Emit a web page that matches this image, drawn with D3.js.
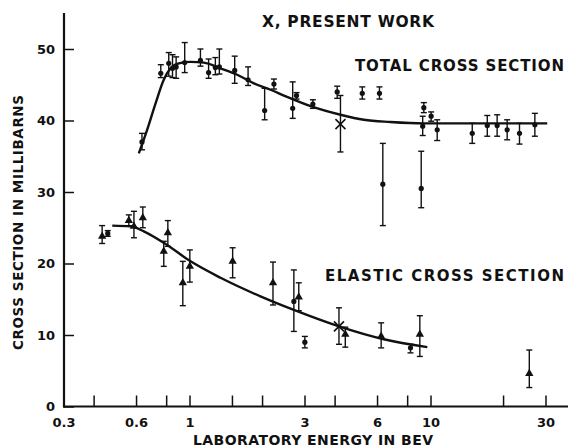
<!DOCTYPE html>
<html>
<head>
<meta charset="utf-8">
<script src="https://cdn.jsdelivr.net/npm/d3@7"></script>
<style>
    body { margin: 0; background: white; }
    text { font-family: "DejaVu Sans", sans-serif; font-weight: bold; fill: #111; }
</style>
</head>
<body>
<div id="chart"></div>
<script>
// total cross section measurements (energy in BeV, value, error bar low/high)
let totalE  = [0.635, 0.76, 0.82, 0.85, 0.88, 0.955, 1.11, 1.20, 1.28, 1.33, 1.54, 1.75, 2.05, 2.24, 2.68, 2.78, 3.25, 4.10, 5.21, 6.14, 6.34, 9.15, 9.28, 9.38, 10.06, 10.66, 14.9, 17.2, 18.9, 20.8, 23.4, 27.1];
let totalV  = [37.0, 46.6, 48.0, 47.3, 47.5, 48.1, 48.4, 46.7, 47.4, 47.5, 47.0, 45.7, 41.4, 45.1, 41.7, 43.5, 42.3, 44.0, 43.8, 43.8, 31.1, 30.5, 39.2, 41.8, 40.6, 38.7, 38.2, 39.3, 39.3, 38.7, 38.2, 39.4];
let totalLo = [35.9, 46.0, 46.2, 46.0, 45.9, 46.7, 47.6, 45.9, 46.4, 46.5, 45.2, 44.9, 40.1, 44.4, 40.3, 43.0, 41.7, 43.1, 43.0, 43.0, 25.3, 27.8, 37.9, 41.1, 39.9, 37.2, 36.8, 37.8, 37.8, 37.3, 36.7, 37.8];
let totalHi = [38.2, 47.8, 49.5, 49.2, 48.9, 50.9, 50.0, 48.6, 48.8, 50.0, 49.0, 47.5, 44.5, 45.8, 45.4, 43.9, 42.9, 44.8, 44.7, 44.7, 36.8, 35.7, 40.6, 42.5, 41.2, 40.1, 39.6, 40.7, 40.8, 40.1, 39.6, 41.0];

// elastic cross section measurements ("t" = triangle, "d" = dot)
let elasticE   = [0.434, 0.458, 0.56, 0.588, 0.64, 0.782, 0.813, 0.938, 1.003, 1.51, 2.22, 2.71, 2.84, 3.01, 4.43, 6.24, 8.26, 9.03, 25.7];
let elasticV   = [23.8, 24.2, 26.0, 25.2, 26.4, 21.7, 24.3, 17.3, 19.6, 20.3, 17.3, 14.7, 15.3, 9.0, 10.1, 9.8, 8.2, 10.1, 4.6];
let elasticLo  = [22.8, 23.8, 25.2, 23.6, 25.0, 19.6, 22.4, 14.1, 17.4, 18.0, 14.2, 10.5, 13.4, 8.2, 8.3, 8.2, 7.5, 7.0, 2.65];
let elasticHi  = [25.3, 24.6, 26.8, 27.3, 27.9, 23.1, 26.0, 20.3, 21.9, 22.2, 20.2, 19.1, 17.3, 9.8, 11.1, 11.7, 8.7, 12.7, 7.9];
let elasticSym = ["t", "d", "t", "t", "t", "t", "t", "t", "t", "t", "t", "d", "t", "d", "t", "t", "d", "t", "t"];

// present work points (X)
let presentE  = [4.23, 4.17];
let presentV  = [39.5, 11.2];
let presentLo = [35.6, 8.7];
let presentHi = [43.5, 13.8];

// hand drawn curves
let totalCurveE = [0.616, 0.667, 0.723, 0.782, 0.834, 0.903, 1.01, 1.147, 1.345, 1.577, 1.85, 2.17, 2.54, 3.18, 4.23, 5.29, 6.81, 9.38, 30.5];
let totalCurveV = [35.4, 38.7, 42.4, 45.7, 47.3, 48.0, 48.2, 48.1, 47.3, 46.4, 45.2, 44.3, 43.3, 42.0, 40.8, 40.1, 39.8, 39.6, 39.6];
let elasticCurveE = [0.478, 0.569, 0.646, 0.782, 1.01, 1.345, 1.97, 2.71, 4.17, 6.4, 9.7];
let elasticCurveV = [25.3, 25.2, 24.5, 22.9, 20.3, 18.0, 15.4, 13.5, 11.2, 9.4, 8.3];

let xTicks = [0.3, 0.4, 0.6, 0.8, 1, 1.5, 2, 3, 4, 6, 8, 10, 20, 30];
let xLabels = [0.3, 0.6, 1, 3, 6, 10, 30];
let yTicks = [0, 10, 20, 30, 40, 50];

function zipPoints(es, vs, los, his, syms) {
    return es.map(function (e, i) {
        return { e: e, v: vs[i], lo: los[i], hi: his[i], sym: syms ? syms[i] : "d" };
    });
}

function drawErrorBars(g, data, x, y) {
    let bars = g.selectAll(null)
        .data(data)
        .enter()
        .append("g")
        .attr("stroke", "#111")
        .attr("stroke-width", 1.4);

    bars.append("line")
        .attr("x1", d => x(d.e)).attr("x2", d => x(d.e))
        .attr("y1", d => y(d.lo)).attr("y2", d => y(d.hi));
    bars.append("line")
        .attr("x1", d => x(d.e) - 3).attr("x2", d => x(d.e) + 3)
        .attr("y1", d => y(d.hi)).attr("y2", d => y(d.hi));
    bars.append("line")
        .attr("x1", d => x(d.e) - 3).attr("x2", d => x(d.e) + 3)
        .attr("y1", d => y(d.lo)).attr("y2", d => y(d.lo));
}

function initChart() {
    let width = 568;
    let height = 447;

    let svg = d3.select("#chart")
        .append("svg")
        .attr("width", width)
        .attr("height", height);

    let x = d3.scaleLog()
        .domain([0.3, 30])
        .range([63.5, 545.5]);

    let y = d3.scaleLinear()
        .domain([0, 50])
        .range([406.5, 49]);

    // axes, ticks pointing inward
    let xAxis = d3.axisBottom(x)
        .tickValues(xTicks)
        .tickSizeInner(-11)
        .tickSizeOuter(0)
        .tickPadding(11)
        .tickFormat(d => xLabels.indexOf(d) >= 0 ? d3.format("~g")(d) : "");

    let yAxis = d3.axisLeft(y)
        .tickValues(yTicks)
        .tickSizeInner(-10)
        .tickSizeOuter(0)
        .tickPadding(9);

    let gx = svg.append("g")
        .attr("transform", "translate(0,406.5)")
        .call(xAxis);
    let gy = svg.append("g")
        .attr("transform", "translate(64,0)")
        .call(yAxis);

    [gx, gy].forEach(function (g) {
        g.select(".domain").remove();
        g.selectAll(".tick line").attr("stroke", "#111").attr("stroke-width", 1.5);
        g.selectAll(".tick text")
            .attr("font-size", 13)
            .attr("font-family", "DejaVu Sans")
            .attr("font-weight", "bold")
            .attr("fill", "#111");
    });

    svg.append("line")
        .attr("x1", 64).attr("x2", 64)
        .attr("y1", 13).attr("y2", 407.5)
        .attr("stroke", "#111").attr("stroke-width", 2.2);
    svg.append("line")
        .attr("x1", 63).attr("x2", width)
        .attr("y1", 406.5).attr("y2", 406.5)
        .attr("stroke", "#111").attr("stroke-width", 2.2);

    // fitted curves
    let line = d3.line()
        .x(d => x(d[0]))
        .y(d => y(d[1]))
        .curve(d3.curveMonotoneX);

    svg.append("path")
        .datum(totalCurveE.map((e, i) => [e, totalCurveV[i]]))
        .attr("fill", "none")
        .attr("stroke", "#111")
        .attr("stroke-width", 2.4)
        .attr("d", line);

    svg.append("path")
        .datum(elasticCurveE.map((e, i) => [e, elasticCurveV[i]]))
        .attr("fill", "none")
        .attr("stroke", "#111")
        .attr("stroke-width", 2.4)
        .attr("d", line);

    let totalData = zipPoints(totalE, totalV, totalLo, totalHi);
    let elasticData = zipPoints(elasticE, elasticV, elasticLo, elasticHi, elasticSym);
    let presentData = zipPoints(presentE, presentV, presentLo, presentHi);

    let marks = svg.append("g");
    drawErrorBars(marks, totalData, x, y);
    drawErrorBars(marks, elasticData, x, y);
    drawErrorBars(marks, presentData, x, y);

    marks.selectAll("circle.total")
        .data(totalData.concat(elasticData.filter(d => d.sym == "d")))
        .enter()
        .append("circle")
        .attr("cx", d => x(d.e))
        .attr("cy", d => y(d.v))
        .attr("r", 2.6)
        .attr("fill", "#111");

    let triangle = d3.symbol().type(d3.symbolTriangle).size(30);
    marks.selectAll("path.tri")
        .data(elasticData.filter(d => d.sym == "t"))
        .enter()
        .append("path")
        .attr("transform", d => "translate(" + x(d.e) + "," + y(d.v) + ")")
        .attr("d", triangle)
        .attr("fill", "#111");

    let cross = marks.selectAll("g.cross")
        .data(presentData)
        .enter()
        .append("g")
        .attr("transform", d => "translate(" + x(d.e) + "," + y(d.v) + ")")
        .attr("stroke", "#111")
        .attr("stroke-width", 1.6);
    cross.append("line").attr("x1", -5).attr("y1", -5).attr("x2", 5).attr("y2", 5);
    cross.append("line").attr("x1", -5).attr("y1", 5).attr("x2", 5).attr("y2", -5);

    // labels
    svg.append("text")
        .text("X, PRESENT WORK")
        .attr("x", 262).attr("y", 27)
        .attr("font-size", 15.5)
        .attr("textLength", 172)
        .attr("lengthAdjust", "spacing");

    svg.append("text")
        .text("TOTAL CROSS SECTION")
        .attr("x", 355).attr("y", 71)
        .attr("font-size", 15)
        .attr("textLength", 209)
        .attr("lengthAdjust", "spacing");

    svg.append("text")
        .text("ELASTIC CROSS SECTION")
        .attr("x", 325).attr("y", 281)
        .attr("font-size", 15)
        .attr("textLength", 239)
        .attr("lengthAdjust", "spacing");

    svg.append("text")
        .text("LABORATORY ENERGY IN BEV")
        .attr("x", 193).attr("y", 445)
        .attr("font-size", 14)
        .attr("textLength", 240)
        .attr("lengthAdjust", "spacing");

    svg.append("text")
        .text("CROSS SECTION IN MILLIBARNS")
        .attr("transform", "translate(23,350) rotate(-90)")
        .attr("font-size", 13.5)
        .attr("textLength", 255)
        .attr("lengthAdjust", "spacing");
}

initChart();
</script>
</body>
</html>
